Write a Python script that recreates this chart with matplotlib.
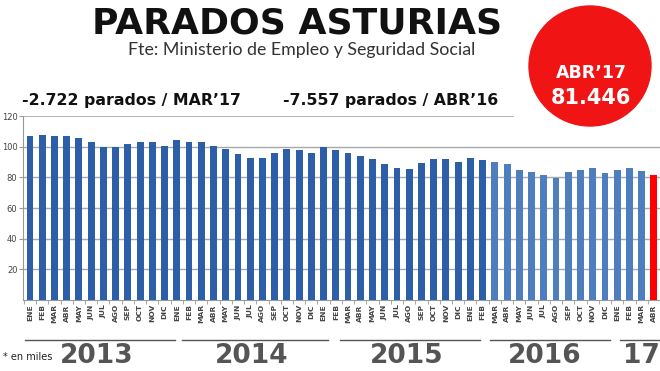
import numpy as np
import matplotlib
matplotlib.use('Agg')
import matplotlib.pyplot as plt
from matplotlib.patches import Ellipse
from matplotlib.lines import Line2D

# monthly unemployed in Asturias (thousands), ENE 2013 .. ABR 2017
paro_2013 = [107.0, 107.6, 107.0, 107.0, 105.9, 102.8, 99.8, 99.8, 101.7, 103.3, 102.8, 100.7]
paro_2014 = [104.3, 103.3, 103.3, 100.4, 98.3, 95.2, 92.4, 92.9, 96.1, 98.3, 97.6, 96.1]
paro_2015 = [99.6, 97.6, 96.1, 93.9, 92.2, 88.9, 86.1, 85.2, 89.1, 91.7, 91.7, 90.2]
paro_2016 = [92.8, 91.5, 90.0, 89.0, 85.0, 83.5, 81.5, 79.8, 83.5, 84.8, 86.1, 83.0]
paro_2017 = [84.8, 86.1, 84.2, 81.4]

meses = ['ENE', 'FEB', 'MAR', 'ABR', 'MAY', 'JUN', 'JUL', 'AGO', 'SEP', 'OCT', 'NOV', 'DIC']
years = ['2013', '2014', '2015', '2016', '17']
y_ticks = [20, 40, 60, 80, 100, 120]

values = paro_2013 + paro_2014 + paro_2015 + paro_2016 + paro_2017
labels = meses * 4 + meses[:4]
x = np.arange(len(values))

W, H = 660, 371

def fx(px):
    return px / W

def fy(py):
    return 1 - py / H

fig = plt.figure(figsize=(W / 100, H / 100), dpi=100)
fig.patch.set_facecolor('white')

ax = fig.add_axes([fx(23), fy(300), fx(660) - fx(23), fy(116) - fy(300)])

# bar colours: darker blue early, lighter later, last month red
colors = ['#2d5fa8'] * 38 + ['#4e7ebd'] * (len(values) - 39) + ['#ff0000']
ax.bar(x, values, width=0.56, color=colors, zorder=3)

ax.set_xlim(-0.57, len(values) - 0.6)
ax.set_ylim(0, 120)
ax.set_yticks(y_ticks)
ax.set_yticklabels([str(t) for t in y_ticks], fontsize=6, color='#444444')
for t in y_ticks[:-1]:
    ax.axhline(t, color='#a8a8a8', lw=1.0, zorder=1)
ax.axhline(120, xmax=0.77, color='#a8a8a8', lw=1.2, zorder=1)

ax.set_xticks(x)
ax.set_xticklabels(labels, rotation=90, fontsize=5.4, fontweight='bold', color='#444444')
ax.set_xticks(np.arange(len(values) + 1) - 0.5, minor=True)
ax.tick_params(axis='x', which='major', length=0, pad=3)
ax.tick_params(axis='x', which='minor', length=3, color='#999999')
ax.tick_params(axis='y', length=3, color='#999999', pad=1)

for s in ['top', 'right']:
    ax.spines[s].set_visible(False)
ax.spines['left'].set_color('#999999')
ax.spines['bottom'].set_color('#999999')

# titles
fig.text(fx(297), fy(24), 'PARADOS ASTURIAS', ha='center', va='center',
         fontsize=26, fontweight='black', family='DejaVu Sans', color='#111111')
fig.text(fx(302), fy(50), 'Fte: Ministerio de Empleo y Seguridad Social', ha='center',
         va='center', fontsize=12.8, family='Lato', color='#333333')

fig.text(fx(22), fy(100), '-2.722 parados / MAR\u201917', ha='left', va='center',
         fontsize=11.3, fontweight='bold', family='DejaVu Sans', color='#111111')
fig.text(fx(283), fy(100), '-7.557 parados / ABR\u201916', ha='left', va='center',
         fontsize=11.3, fontweight='bold', family='DejaVu Sans', color='#111111')

# red badge
circle = Ellipse((fx(590), fy(66)), fx(122), 120 / H, transform=fig.transFigure,
                 color='#f01414', zorder=5)
fig.patches.append(circle)
fig.text(fx(591), fy(73), 'ABR\u201917', ha='center', va='center', fontsize=12.5,
         fontweight='bold', color='white', zorder=6)
fig.text(fx(591), fy(98), '81.446', ha='center', va='center', fontsize=15,
         fontweight='bold', color='white', zorder=6)

# year groups
segs = [(25, 175), (182, 328), (340, 480), (490, 610), (620, 660)]
centers = [97, 252, 407, 545, 641]
for (a, b), c, yr in zip(segs, centers, years):
    fig.lines.append(Line2D([fx(a), fx(b)], [fy(340), fy(340)], transform=fig.transFigure,
                            color='#555555', lw=1))
    fig.text(fx(c), fy(356), yr, ha='center', va='center', fontsize=19,
             fontweight='black', family='DejaVu Sans', color='#555555')

fig.text(fx(3), fy(357), '* en miles', ha='left', va='center', fontsize=7, color='#222222')

fig.savefig('out.png', dpi=100, facecolor='white')
